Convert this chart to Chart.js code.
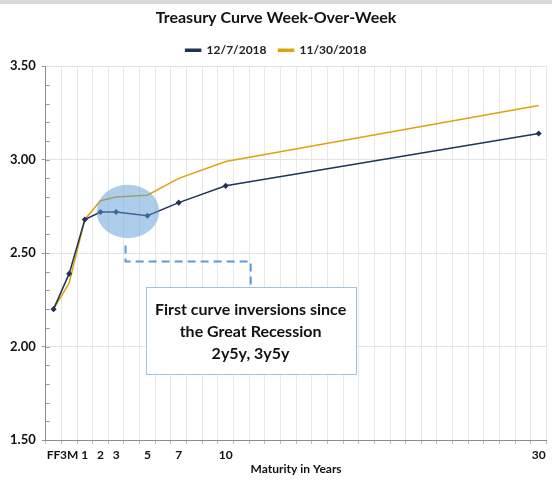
<!DOCTYPE html>
<html>
<head>
<meta charset="utf-8">
<script src="https://cdn.jsdelivr.net/npm/chart.js@4"></script>
<style>
  html, body { margin: 0; padding: 0; background: #fff; }
  body { border-top: 4px solid #d9d9d9; }
  #wrap { width: 552px; height: 478px; }
</style>
</head>
<body>
<div id="wrap"><canvas id="curve"></canvas></div>
<script>
// maturity axis: one slot per year, only the traded points get a label
const tickLabels = ['FF', '3M', '1', '2', '3', '', '5', '', '7', '', '', '10',
  '', '', '', '', '', '', '', '', '', '', '', '', '', '', '', '', '', '', '', '30'];
const maturities = ['FF', '3M', '1', '2', '3', '5', '7', '10', '30'];
const dec7 = [2.20, 2.39, 2.68, 2.72, 2.72, 2.70, 2.77, 2.86, 3.14];
const nov30 = [2.20, 2.34, 2.68, 2.78, 2.80, 2.81, 2.90, 2.99, 3.29];
const noteLines = ['First curve inversions since', 'the Great Recession', '2y5y, 3y5y'];

const NAVY = '#1f3458';
const GOLD = '#dba30c';
const FONT = 'Lato, "Open Sans", sans-serif';

const pts = vals => maturities.map((m, i) => ({ x: m, y: vals[i] }));

// callout: ellipse + dashed leader + text box, placed in data units
const callout = {
  id: 'callout',
  afterDatasetsDraw(chart) {
    const { ctx, scales: { x, y } } = chart;
    const X = v => x.getPixelForValue(v), Y = v => y.getPixelForValue(v);
    ctx.save();

    // inward minor ticks on the value axis
    ctx.strokeStyle = '#9a9a9a';
    ctx.lineWidth = 1;
    for (let v = 1.6; v < 3.5; v += 0.1) {
      const py = Math.round(Y(v)) + 0.5;
      ctx.beginPath();
      ctx.moveTo(x.left, py);
      ctx.lineTo(x.left + 4, py);
      ctx.stroke();
    }

    // highlight ellipse
    const cx = X(4.75), cy = Y(2.723);
    ctx.fillStyle = 'rgba(91,155,213,0.5)';
    ctx.beginPath();
    ctx.ellipse(cx, cy, X(4.75) - X(2.75), Y(2.58) - cy, 0, 0, Math.PI * 2);
    ctx.fill();

    // dashed leader
    ctx.strokeStyle = '#5b9bd5';
    ctx.lineWidth = 2;
    ctx.setLineDash([8, 5]);
    ctx.beginPath();
    ctx.moveTo(X(4.6), Y(2.54));
    ctx.lineTo(X(4.6), Y(2.455));
    ctx.lineTo(X(12.6), Y(2.455));
    ctx.lineTo(X(12.6), Y(2.32));
    ctx.stroke();
    ctx.setLineDash([]);

    // text box
    const bx = X(5.88), bw = X(19.3) - bx, by = Y(2.32), bh = Y(1.853) - by;
    ctx.fillStyle = '#fff';
    ctx.fillRect(bx, by, bw, bh);
    ctx.strokeStyle = '#9dc3e6';
    ctx.lineWidth = 1;
    ctx.strokeRect(Math.round(bx) + 0.5, Math.round(by) + 0.5, Math.round(bw), Math.round(bh));

    ctx.fillStyle = '#111';
    ctx.font = 'bold 16px ' + FONT;
    ctx.textAlign = 'center';
    ctx.textBaseline = 'middle';
    noteLines.forEach((t, i) => ctx.fillText(t, bx + bw / 2, by + 23 + i * 22));
    ctx.restore();
  }
};

new Chart(document.getElementById('curve'), {
  type: 'line',
  data: {
    labels: tickLabels,
    datasets: [
      {
        label: '12/7/2018',
        data: pts(dec7),
        borderColor: NAVY,
        backgroundColor: NAVY,
        borderWidth: 1.5,
        pointStyle: 'rectRot',
        pointRadius: 2,
        pointBackgroundColor: NAVY,
        tension: 0
      },
      {
        label: '11/30/2018',
        data: pts(nov30),
        borderColor: GOLD,
        backgroundColor: GOLD,
        borderWidth: 1.5,
        pointRadius: 0,
        tension: 0
      }
    ]
  },
  options: {
    responsive: true,
    maintainAspectRatio: false,
    animation: false,
    layout: { padding: { left: 4, right: 4, bottom: 7 } },
    plugins: {
      title: {
        display: true,
        text: 'Treasury Curve Week-Over-Week',
        color: '#111',
        font: { family: FONT, size: 16, weight: 'bold' },
        padding: { top: 4, bottom: 5 }
      },
      legend: {
        labels: {
          color: '#222',
          font: { family: FONT, size: 12, weight: 'bold' },
          boxWidth: 15,
          boxHeight: 2,
          padding: 12
        }
      },
      tooltip: { enabled: false }
    },
    scales: {
      x: {
        offset: true,
        grid: { offset: true, color: '#e8e8e8', tickColor: '#bbb', tickLength: 4 },
        border: { color: '#8c8c8c' },
        ticks: {
          autoSkip: false,
          maxRotation: 0,
          color: '#111',
          padding: 5,
          font: { family: FONT, size: 12, weight: 'bold', lineHeight: 1 }
        },
        title: {
          display: true,
          text: 'Maturity in Years',
          color: '#111',
          font: { family: FONT, size: 12, weight: 'bold', lineHeight: 1 },
          padding: { top: -3, bottom: 0 }
        }
      },
      y: {
        min: 1.5,
        max: 3.5,
        ticks: {
          stepSize: 0.5,
          color: '#111',
          padding: 6,
          font: { family: FONT, size: 13, weight: 'bold' },
          callback: v => v.toFixed(2)
        },
        grid: { color: '#e3e3e3', tickColor: '#9a9a9a', tickLength: 4 },
        border: { color: '#8c8c8c' }
      }
    }
  },
  plugins: [callout]
});
</script>
</body>
</html>
